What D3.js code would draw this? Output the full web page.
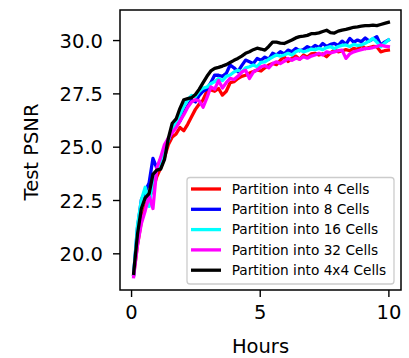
<!DOCTYPE html>
<html><head><meta charset="utf-8">
<script src="https://cdn.jsdelivr.net/npm/d3@7"></script>
<style>body{margin:0;background:#fff}svg{display:block}text{font-family:"DejaVu Sans",sans-serif;fill:#000}</style>
</head><body><svg id="c" width="409" height="358"></svg>
<script>
const hours = [0.1,0.25,0.4,0.55,0.7,0.85,1.0,1.15,1.3,1.45,1.6,1.75,1.9,2.05,2.2,2.35,2.5,2.65,2.8,2.95,3.1,3.25,3.4,3.55,3.7,3.85,4.0,4.15,4.3,4.45,4.6,4.75,4.9,5.05,5.2,5.35,5.5,5.65,5.8,5.95,6.1,6.25,6.4,6.55,6.7,6.85,7.0,7.15,7.3,7.45,7.6,7.75,7.9,8.05,8.2,8.35,8.5,8.65,8.8,8.95,9.1,9.25,9.4,9.55,9.7,9.85,10.0];
const cells4 = [19.0,20.4,21.5,22.2,22.6,23.0,23.6,24.0,24.5,25.1,25.45,25.6,25.9,25.75,26.05,26.4,26.75,27.0,27.2,27.6,27.66,27.6,27.73,27.42,27.6,28.0,28.05,28.2,28.3,28.35,28.45,28.52,28.6,28.55,28.7,28.83,28.9,28.85,29.05,29.22,29.0,29.15,29.25,29.1,29.3,29.2,29.35,29.38,29.3,29.35,29.22,29.4,29.53,29.45,29.5,29.55,29.5,29.61,29.55,29.77,29.6,29.65,29.7,29.69,29.45,29.5,29.53];
const cells8 = [19.0,21.2,22.5,22.9,23.3,24.45,24.0,24.4,24.9,25.3,25.7,25.95,26.2,26.6,26.9,27.2,27.1,27.4,27.6,27.7,28.0,28.36,28.35,28.3,28.44,28.83,28.7,28.52,28.8,29.06,28.98,28.9,29.14,29.05,29.2,29.1,29.38,29.3,29.45,29.35,29.53,29.45,29.61,29.5,29.55,29.69,29.6,29.75,29.65,29.84,29.7,29.8,29.84,29.75,29.95,29.8,30.08,29.9,30.0,29.92,30.1,29.95,30.05,30.16,29.77,29.9,30.0];
const cells16 = [19.0,21.3,22.5,23.1,22.2,23.5,23.9,24.3,24.9,25.3,25.8,26.2,26.5,26.9,27.2,27.4,27.35,27.6,27.75,27.8,27.95,28.05,28.2,28.1,28.3,28.36,28.5,28.59,28.5,28.7,28.75,28.83,28.75,28.95,28.98,29.1,29.2,29.3,29.25,29.3,29.38,29.3,29.45,29.53,29.45,29.5,29.58,29.55,29.61,29.55,29.65,29.69,29.6,29.7,29.75,29.77,29.7,29.8,29.75,29.77,29.85,29.95,30.08,29.9,29.69,29.85,30.0];
const cells32 = [18.9,20.4,21.4,22.0,22.7,22.1,24.0,24.5,25.1,25.4,25.65,25.9,26.2,26.5,26.85,27.1,27.2,27.15,26.85,27.3,27.8,27.7,28.1,27.75,28.0,28.2,28.15,28.3,28.5,28.59,28.2,28.5,28.6,28.75,28.8,28.7,28.9,28.98,28.9,29.0,29.14,29.05,29.15,29.1,29.22,29.15,29.25,29.3,29.38,29.3,29.45,29.4,29.45,29.5,29.53,29.14,29.35,29.45,29.5,29.55,29.6,29.61,29.65,29.7,29.77,29.72,29.69];
const cells4x4 = [19.06,20.9,22.1,22.6,22.8,23.7,23.9,23.95,24.4,25.4,26.1,26.3,26.8,27.2,27.25,27.3,27.45,27.7,28.0,28.3,28.55,28.67,28.72,28.78,28.85,28.95,29.05,29.14,29.25,29.38,29.45,29.55,29.62,29.58,29.53,29.7,29.9,29.9,29.86,29.84,29.92,30.0,30.1,30.16,30.18,30.22,30.3,30.3,30.34,30.4,30.46,30.35,30.33,30.42,30.47,30.5,30.55,30.6,30.62,30.65,30.68,30.68,30.7,30.68,30.73,30.78,30.83];
const seriesNames = ["Partition into 4 Cells","Partition into 8 Cells","Partition into 16 Cells","Partition into 32 Cells","Partition into 4x4 Cells"];
const seriesColors = ["#ff0000","#0000ff","#00ffff","#ff00ff","#000000"];
const xTicks = [0,5,10];
const yTicks = [20.0,22.5,25.0,27.5,30.0];

const series = [cells4,cells8,cells16,cells32,cells4x4].map((v,i)=>({name:seriesNames[i],color:seriesColors[i],pts:v.map((y,j)=>[hours[j],y])}));

const svg = d3.select("#c");
const L=120,R=401,T=10,B=290;
const x = d3.scaleLinear().domain([-0.43,10.49]).range([L,R]);
const y = d3.scaleLinear().domain([18.28,31.41]).range([B,T]);

svg.append("clipPath").attr("id","pc").append("rect").attr("x",L).attr("y",T).attr("width",R-L).attr("height",B-T);
const line = d3.line().x(d=>x(d[0])).y(d=>y(d[1]));
const g = svg.append("g").attr("clip-path","url(#pc)");
series.forEach(s=>{
  g.append("path").attr("d",line(s.pts)).attr("fill","none").attr("stroke",s.color).attr("stroke-width",3.3).attr("stroke-linejoin","round").attr("stroke-linecap","square");
});

const xa = svg.append("g").attr("transform",`translate(0,${B})`).call(d3.axisBottom(x).tickValues(xTicks).tickFormat(d3.format("d")).tickSize(7).tickPadding(8));
const ya = svg.append("g").attr("transform",`translate(${L},0)`).call(d3.axisLeft(y).tickValues(yTicks).tickFormat(d3.format(".1f")).tickSize(7).tickPadding(10));
[xa,ya].forEach(a=>{a.select(".domain").remove();a.selectAll("line").attr("stroke","#000").attr("stroke-width",1.4);a.selectAll("text").attr("font-size","19.5px").attr("font-family","DejaVu Sans").attr("fill","#000");});
ya.selectAll("text").attr("dy","0.36em");
xa.selectAll("text").attr("dy","0.71em");

svg.append("rect").attr("x",L).attr("y",T).attr("width",R-L).attr("height",B-T).attr("fill","none").attr("stroke","#000").attr("stroke-width",1.5);

svg.append("text").attr("x",(L+R)/2).attr("y",353).attr("text-anchor","middle").attr("font-size","19.5px").text("Hours");
svg.append("text").attr("transform","translate(37.5,152) rotate(-90)").attr("text-anchor","middle").attr("font-size","19.5px").text("Test PSNR");

const lg = svg.append("g");
lg.append("rect").attr("x",187).attr("y",177.5).attr("width",207).attr("height",106.5).attr("rx",3).attr("fill","#fff").attr("fill-opacity",0.8).attr("stroke","#cccccc").attr("stroke-width",1.3);
series.forEach((s,i)=>{
  const yy = 189 + i*20.3;
  lg.append("line").attr("x1",191).attr("x2",221).attr("y1",yy).attr("y2",yy).attr("stroke",s.color).attr("stroke-width",3.3);
  lg.append("text").attr("x",231.7).attr("y",yy+4.6).attr("font-size","13.7px").text(s.name);
});
</script></body></html>
